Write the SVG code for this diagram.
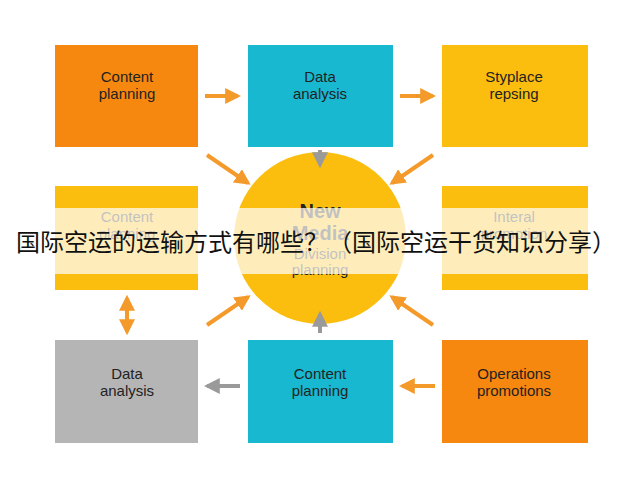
<svg xmlns="http://www.w3.org/2000/svg" width="640" height="480" viewBox="0 0 640 480">
<defs>
<marker id="ao" viewBox="0 0 10 10" refX="8" refY="5" markerWidth="4" markerHeight="4" orient="auto-start-reverse"><path d="M0,0 L10,5 L0,10 z" fill="#f39a2b"/></marker>
<marker id="ag" viewBox="0 0 10 10" refX="8" refY="5" markerWidth="4" markerHeight="4" orient="auto"><path d="M0,0 L10,5 L0,10 z" fill="#9a9a9a"/></marker>
<style>
.t{font-family:"Liberation Sans",Arial,sans-serif;font-size:15px;text-anchor:middle;fill:#222}
.o{stroke:#f39a2b;stroke-width:4;fill:none;marker-end:url(#ao)}
.g{stroke:#9a9a9a;stroke-width:4;fill:none;marker-end:url(#ag)}
</style>
</defs>
<rect width="640" height="480" fill="#fff"/>
<g id="n1"><rect x="55" y="45" width="143" height="102" fill="#f6870f"/><text class="t" x="127" y="82">Content</text><text class="t" x="127" y="99">planning</text></g>
<g id="n2"><rect x="248" y="45" width="145" height="102" fill="#18b8d0"/><text class="t" x="320" y="82">Data</text><text class="t" x="320" y="99">analysis</text></g>
<g id="n3"><rect x="442" y="45" width="146" height="102" fill="#fbbd0e"/><text class="t" x="514" y="82">Styplace</text><text class="t" x="514" y="99">repsing</text></g>
<g id="n4"><rect x="55" y="186" width="143" height="104" fill="#fbbd0e"/><text class="t" x="127" y="222">Content</text><text class="t" x="127" y="239">planning</text></g>
<g id="n5"><circle cx="320" cy="238" r="86" fill="#fbbd0e"/><text class="t" x="320" y="218" style="font-size:20px;font-weight:bold">New</text><text class="t" x="320" y="240" style="font-size:20px;font-weight:bold">Media</text><text class="t" x="320" y="259">Division</text><text class="t" x="320" y="275">planning</text></g>
<g id="n6"><rect x="442" y="186" width="146" height="104" fill="#fbbd0e"/><text class="t" x="514" y="222">Interal</text><text class="t" x="514" y="239">promotion</text></g>
<g id="n7"><rect x="55" y="340" width="143" height="103" fill="#b5b5b5"/><text class="t" x="127" y="379">Data</text><text class="t" x="127" y="396">analysis</text></g>
<g id="n8"><rect x="248" y="340" width="145" height="103" fill="#18b8d0"/><text class="t" x="320" y="379">Content</text><text class="t" x="320" y="396">planning</text></g>
<g id="n9"><rect x="442" y="340" width="146" height="103" fill="#f6870f"/><text class="t" x="514" y="379">Operations</text><text class="t" x="514" y="396">promotions</text></g>
<g id="edges">
<line class="o" x1="205" y1="96" x2="238" y2="96"/>
<line class="o" x1="400" y1="96" x2="433" y2="96"/>
<line class="g" x1="320" y1="150" x2="320" y2="165"/>
<line class="o" x1="207" y1="155" x2="248" y2="183"/>
<line class="o" x1="433" y1="155" x2="392" y2="183"/>
<line class="o" x1="127" y1="298" x2="127" y2="332" style="marker-start:url(#ao)"/>
<line class="o" x1="207" y1="325" x2="248" y2="297"/>
<line class="o" x1="433" y1="325" x2="392" y2="297"/>
<line class="g" x1="320" y1="333" x2="320" y2="314"/>
<line class="g" x1="240" y1="386" x2="207" y2="386"/>
<line class="o" x1="435" y1="386" x2="402" y2="386"/>
</g>
<rect x="0" y="208" width="640" height="66" fill="#fff" opacity="0.72"/>
<text x="316" y="251" style="font-family:'Noto Sans CJK SC',sans-serif;font-size:24px;text-anchor:middle;fill:#111">国际空运的运输方式有哪些？（国际空运干货知识分享）</text>
</svg>
